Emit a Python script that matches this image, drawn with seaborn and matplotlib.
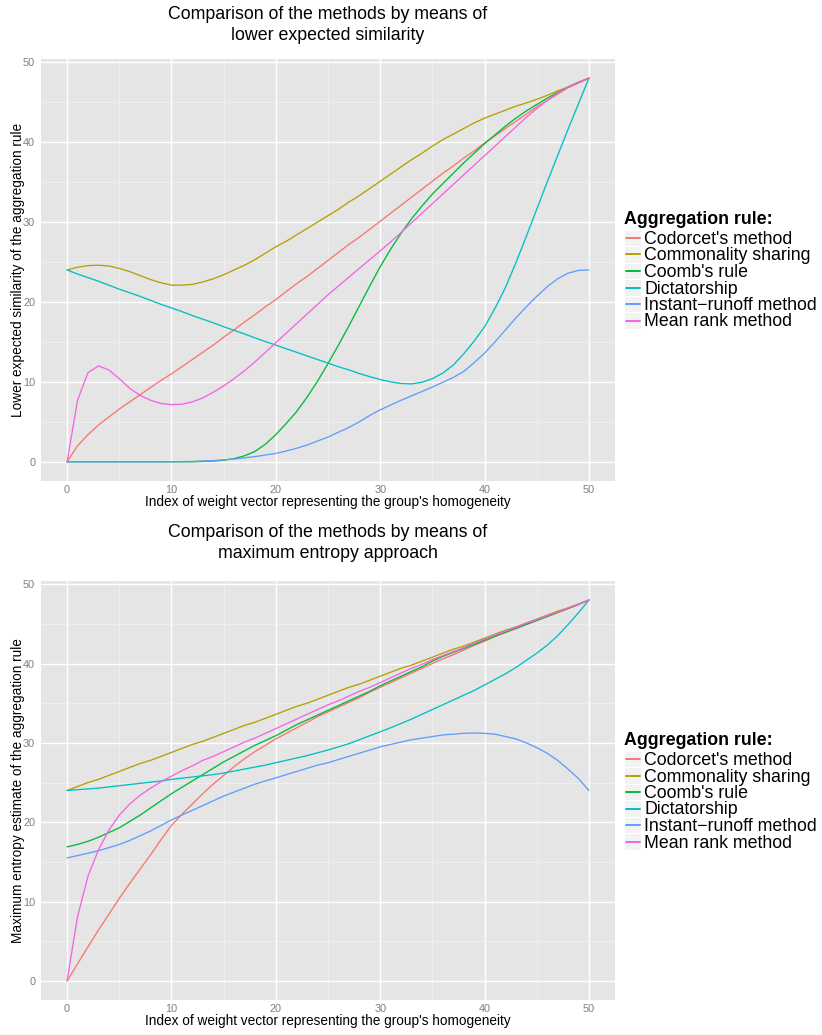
import matplotlib
matplotlib.use("Agg")
import matplotlib.pyplot as plt
import seaborn as sns
import pandas as pd
from matplotlib.lines import Line2D
from matplotlib.patches import Rectangle

# ---------------- data ----------------
x_index = list(range(51))
rules = ["Codorcet's method", "Commonality sharing", "Coomb's rule",
         "Dictatorship", "Instant\u2212runoff method", "Mean rank method"]
colors = ["#F8766D", "#B79F00", "#00BA38", "#00BFC4", "#619CFF", "#F564E3"]

title_top = "Comparison of the methods by means of\nlower expected similarity"
title_bottom = "Comparison of the methods by means of\nmaximum entropy approach"
ylabel_top = "Lower expected similarity of the aggregation rule"
ylabel_bottom = "Maximum entropy estimate of the aggregation rule"
xlabel_text = "Index of weight vector representing the group's homogeneity"
legend_title = "Aggregation rule:"
x_ticks = [0, 10, 20, 30, 40, 50]
y_ticks = [0, 10, 20, 30, 40, 50]

# Lower expected similarity (top panel)
les_condorcet = [0, 2.0, 3.4, 4.6, 5.6, 6.6, 7.5, 8.4, 9.3, 10.2,
                 11.0, 11.9, 12.8, 13.7, 14.6, 15.6, 16.5, 17.5, 18.4, 19.4,
                 20.3, 21.3, 22.3, 23.2, 24.2, 25.2, 26.2, 27.2, 28.1, 29.1,
                 30.1, 31.1, 32.1, 33.1, 34.1, 35.1, 36.1, 37.0, 38.0, 38.9,
                 39.9, 40.8, 41.7, 42.6, 43.5, 44.4, 45.2, 46.0, 46.8, 47.4,
                 48.0]
les_commonality = [24.0, 24.35, 24.55, 24.6, 24.5, 24.2, 23.8, 23.3, 22.8, 22.4,
                   22.1, 22.1, 22.2, 22.5, 22.9, 23.4, 24.0, 24.6, 25.3, 26.1,
                   26.9, 27.6, 28.4, 29.2, 30.0, 30.8, 31.6, 32.5, 33.3, 34.2,
                   35.1, 36.0, 36.9, 37.8, 38.6, 39.5, 40.3, 41.0, 41.7, 42.4,
                   43.0, 43.5, 44.0, 44.5, 44.9, 45.35, 45.85, 46.4, 46.9, 47.45,
                   48.0]
les_coomb = [0, 0, 0, 0, 0, 0, 0, 0, 0, 0,
             0, 0, 0, 0.05, 0.1, 0.2, 0.4, 0.75, 1.3, 2.2,
             3.4, 4.8, 6.3, 8.1, 10.1, 12.3, 14.6, 17.0, 19.5, 22.0,
             24.4, 26.6, 28.6, 30.4, 32.0, 33.5, 34.8, 36.1, 37.4, 38.6,
             39.8, 40.9, 42.0, 43.0, 43.9, 44.7, 45.5, 46.2, 46.9, 47.5,
             48.0]
les_dictatorship = [24.0, 23.5, 23.05, 22.6, 22.1, 21.6, 21.15, 20.7, 20.2, 19.7,
                    19.25, 18.8, 18.3, 17.85, 17.4, 16.9, 16.45, 16.0, 15.5, 15.05,
                    14.6, 14.15, 13.7, 13.25, 12.8, 12.35, 11.9, 11.5, 11.05, 10.65,
                    10.3, 10.0, 9.8, 9.75, 9.95, 10.4, 11.1, 12.1, 13.5, 15.1,
                    16.9, 19.2, 21.8, 24.9, 28.2, 31.6, 35.0, 38.3, 41.6, 44.8,
                    48.0]
les_irv = [0, 0, 0, 0, 0, 0, 0, 0, 0, 0,
           0, 0.02, 0.05, 0.1, 0.15, 0.25, 0.35, 0.5, 0.65, 0.85,
           1.05, 1.35, 1.7, 2.1, 2.6, 3.1, 3.7, 4.3, 5.0, 5.8,
           6.5, 7.1, 7.7, 8.25, 8.8, 9.35, 9.95, 10.55, 11.3, 12.4,
           13.6, 15.0, 16.5, 18.0, 19.4, 20.7, 21.9, 22.9, 23.6, 23.95,
           24.0]
les_meanrank = [0, 7.7, 11.15, 12.0, 11.5, 10.4, 9.2, 8.3, 7.7, 7.3,
                7.15, 7.2, 7.5, 8.0, 8.7, 9.5, 10.4, 11.4, 12.5, 13.7,
                14.9, 16.1, 17.3, 18.5, 19.7, 20.9, 22.0, 23.1, 24.2, 25.3,
                26.4, 27.5, 28.7, 29.9, 31.1, 32.3, 33.5, 34.7, 35.9, 37.1,
                38.3, 39.5, 40.7, 41.9, 43.1, 44.2, 45.2, 46.1, 46.9, 47.5,
                48.0]

# Maximum entropy estimate (bottom panel)
mee_condorcet = [0, 2.15, 4.3, 6.4, 8.4, 10.4, 12.3, 14.1, 15.9, 17.8,
                 19.6, 21.0, 22.3, 23.6, 24.8, 25.9, 27.0, 28.0, 28.9, 29.7,
                 30.5, 31.2, 31.9, 32.6, 33.3, 33.9, 34.5, 35.1, 35.7, 36.4,
                 37.0, 37.6, 38.2, 38.8, 39.4, 40.0, 40.6, 41.1, 41.7, 42.3,
                 42.8, 43.4, 43.9, 44.4, 44.9, 45.4, 45.9, 46.4, 46.9, 47.45,
                 48.0]
mee_commonality = [24.0, 24.5, 25.0, 25.4, 25.9, 26.4, 26.9, 27.4, 27.8, 28.3,
                   28.8, 29.3, 29.8, 30.2, 30.7, 31.2, 31.7, 32.2, 32.6, 33.1,
                   33.6, 34.1, 34.6, 35.0, 35.5, 36.0, 36.5, 37.0, 37.4, 37.9,
                   38.4, 38.9, 39.4, 39.8, 40.3, 40.8, 41.3, 41.8, 42.2, 42.7,
                   43.2, 43.7, 44.2, 44.6, 45.1, 45.6, 46.1, 46.6, 47.0, 47.5,
                   48.0]
mee_coomb = [16.9, 17.2, 17.6, 18.1, 18.7, 19.3, 20.1, 20.9, 21.8, 22.7,
             23.6, 24.4, 25.2, 26.0, 26.8, 27.6, 28.3, 29.0, 29.7, 30.3,
             30.9, 31.6, 32.3, 32.9, 33.5, 34.1, 34.7, 35.3, 35.9, 36.5,
             37.2, 37.8, 38.4, 39.0, 39.6, 40.3, 40.9, 41.4, 41.9, 42.4,
             42.95, 43.45, 43.95, 44.45, 44.95, 45.45, 45.95, 46.45, 46.95, 47.45,
             48.0]
mee_dictatorship = [24.0, 24.1, 24.2, 24.3, 24.45, 24.6, 24.75, 24.9, 25.05, 25.2,
                    25.4, 25.55, 25.7, 25.85, 26.0, 26.2, 26.45, 26.7, 26.95, 27.2,
                    27.5, 27.8, 28.1, 28.4, 28.75, 29.1, 29.5, 29.9, 30.4, 30.9,
                    31.4, 31.9, 32.45, 33.0, 33.6, 34.2, 34.8, 35.4, 36.0, 36.6,
                    37.3, 38.0, 38.7, 39.5, 40.4, 41.3, 42.3, 43.5, 44.9, 46.4,
                    48.0]
mee_irv = [15.5, 15.8, 16.1, 16.4, 16.8, 17.2, 17.7, 18.3, 18.9, 19.6,
           20.3, 20.9, 21.5, 22.1, 22.7, 23.3, 23.8, 24.3, 24.8, 25.2,
           25.6, 26.0, 26.4, 26.8, 27.2, 27.5, 27.9, 28.3, 28.7, 29.1,
           29.5, 29.8, 30.1, 30.4, 30.6, 30.8, 31.0, 31.1, 31.2, 31.25,
           31.2, 31.1, 30.8, 30.5, 30.0, 29.4, 28.7, 27.8, 26.7, 25.5,
           24.0]
mee_meanrank = [0, 8.1, 13.2, 16.5, 19.0, 20.9, 22.3, 23.4, 24.3, 25.1,
                25.8, 26.5, 27.1, 27.8, 28.3, 28.9, 29.5, 30.1, 30.6, 31.2,
                31.8, 32.4, 33.0, 33.6, 34.2, 34.8, 35.3, 35.9, 36.5, 37.0,
                37.6, 38.2, 38.8, 39.4, 39.9, 40.5, 41.0, 41.5, 42.0, 42.6,
                43.1, 43.6, 44.1, 44.6, 45.1, 45.55, 46.05, 46.5, 47.0, 47.5,
                48.0]

top_series = [les_condorcet, les_commonality, les_coomb, les_dictatorship, les_irv, les_meanrank]
bottom_series = [mee_condorcet, mee_commonality, mee_coomb, mee_dictatorship, mee_irv, mee_meanrank]


def to_long(series_list):
    frames = []
    for name, vals in zip(rules, series_list):
        frames.append(pd.DataFrame({"index": x_index, "value": vals, "rule": name}))
    return pd.concat(frames, ignore_index=True)


# ---------------- style ----------------
sns.set_style("darkgrid")
plt.rcParams["font.family"] = ["Liberation Sans", "DejaVu Sans"]

W, H = 822, 1035
fig = plt.figure(figsize=(W / 100, H / 100), dpi=100)
fig.patch.set_facecolor("white")


def fx(px):
    return px / W


def fy(py):
    return 1 - py / H


def style_axis(ax):
    ax.set_facecolor("#E5E5E5")
    for s in ax.spines.values():
        s.set_visible(False)
    ax.set_xlim(-2.5, 52.5)
    ax.set_ylim(-2.4, 50.4)
    ax.set_xticks(x_ticks)
    ax.set_yticks(y_ticks)
    ax.set_xticks([5, 15, 25, 35, 45], minor=True)
    ax.set_yticks([5, 15, 25, 35, 45], minor=True)
    ax.grid(which="major", color="white", linewidth=1.0)
    ax.grid(which="minor", color="#F2F2F2", linewidth=0.55)
    ax.set_axisbelow(True)
    ax.tick_params(which="major", direction="out", length=3, width=0.7,
                   color="#7F7F7F", labelcolor="#7F7F7F", labelsize=7.8)
    ax.tick_params(axis="x", which="major", pad=0.2)
    ax.tick_params(axis="y", which="major", pad=1.2)
    ax.tick_params(which="minor", length=0)
    ax.set_xlabel("")
    ax.set_ylabel("")


panels = [
    (59, 481, top_series, title_top, ylabel_top, 218, 25),
    (581, 1000, bottom_series, title_bottom, ylabel_bottom, 739, 543),
]

for (ptop, pbot, series, ttl, ylab, leg_y, ttl_y) in panels:
    ax = fig.add_axes([fx(41), fy(pbot), fx(615) - fx(41), (pbot - ptop) / H])
    df = to_long(series)
    sns.lineplot(data=df, x="index", y="value", hue="rule", hue_order=rules,
                 palette=colors, ax=ax, legend=False, linewidth=0.95,
                 estimator=None, errorbar=None, sort=False)
    style_axis(ax)

    # titles and axis labels
    fig.text(fx(328), fy(ttl_y), ttl, ha="center", va="center",
             fontsize=12.8, linespacing=1.24, color="black")
    fig.text(fx(328), fy(pbot + 21.5), xlabel_text, ha="center", va="center",
             fontsize=9.8, color="black")
    fig.text(fx(18), fy((ptop + pbot) / 2), ylab, ha="center", va="center",
             rotation=90, fontsize=9.8, color="black")

    # legend
    fig.text(fx(624), fy(leg_y + 1.5), legend_title, ha="left", va="center",
             fontsize=12.8, fontweight="bold", color="black")
    row_h = 16.5
    for i, (name, col) in enumerate(zip(rules, colors)):
        cy = leg_y + 20 + i * row_h
        fig.add_artist(Rectangle((fx(624), fy(cy + row_h / 2)), fx(641) - fx(624),
                                 row_h / H, transform=fig.transFigure,
                                 facecolor="#F2F2F2", edgecolor="white", linewidth=0.8))
        fig.add_artist(Line2D([fx(626), fx(640)], [fy(cy), fy(cy)],
                              transform=fig.transFigure, color=col, linewidth=1.4))
        fig.text(fx(644), fy(cy + 1.5), name, ha="left", va="center",
                 fontsize=12.8, color="black")

fig.savefig("out.png", dpi=100, facecolor="white")
